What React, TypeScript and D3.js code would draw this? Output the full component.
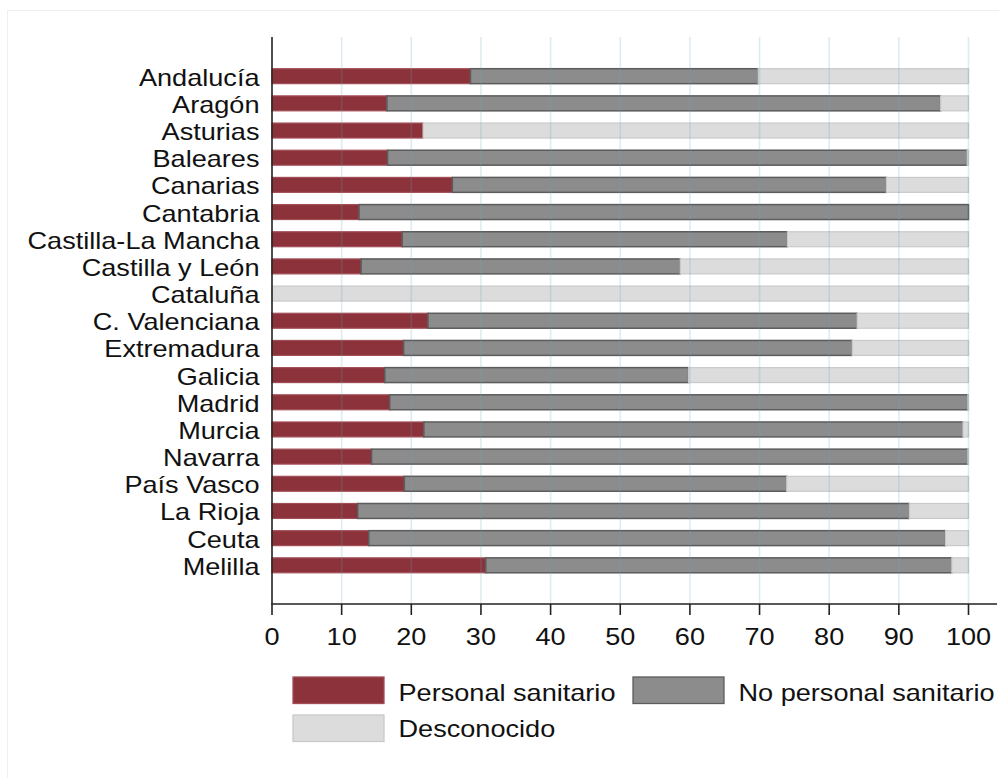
import React from "react";
import * as d3 from "d3";

const regions = [
  "Andalucía", "Aragón", "Asturias", "Baleares", "Canarias", "Cantabria",
  "Castilla-La Mancha", "Castilla y León", "Cataluña", "C. Valenciana",
  "Extremadura", "Galicia", "Madrid", "Murcia", "Navarra", "País Vasco",
  "La Rioja", "Ceuta", "Melilla",
];
const personalSanitario = [28.5, 16.5, 21.7, 16.6, 25.9, 12.5, 18.7, 12.8, 0, 22.4, 18.9, 16.2, 16.9, 21.8, 14.3, 19.0, 12.3, 13.9, 30.7];
const noPersonalSanitario = [41.3, 79.5, 0, 83.2, 62.3, 87.5, 55.3, 45.8, 0, 61.6, 64.4, 43.6, 83.0, 77.4, 85.6, 54.9, 79.2, 82.8, 66.9];
const desconocido = [30.2, 4.0, 78.3, 0.2, 11.8, 0, 26.0, 41.4, 100, 16.0, 16.7, 40.2, 0.1, 0.8, 0.1, 26.1, 8.5, 3.3, 2.4];
const xTicks = [0, 10, 20, 30, 40, 50, 60, 70, 80, 90, 100];
const seriesKeys = ["sanitario", "noSanitario", "desconocido"];
const seriesLabels = ["Personal sanitario", "No personal sanitario", "Desconocido"];

const fills = ["#8b323b", "#8c8c8c", "#dcdcdc"];
const strokes = ["#a24e57", "#5c5c5c", "#c9c9c9"];
const FONT = "'Liberation Sans', Arial, Helvetica, sans-serif";
const FS = 24;
const SX = 1.13;

function SText({ x, y, anchor = "start", children }: any) {
  return (
    <text
      transform={`translate(${x},${y}) scale(${SX},1)`}
      textAnchor={anchor}
      fontFamily={FONT}
      fontSize={FS}
      fill="#111"
    >
      {children}
    </text>
  );
}

export default function App() {
  const W = 999, H = 778;
  const x = d3.scaleLinear().domain([0, 100]).range([272, 968.5]);
  const y = d3.scaleBand<string>().domain(regions).range([62.6, 578.9]).paddingInner(0.45).paddingOuter(0.225);
  const rows = regions.map((r, i) => ({
    region: r,
    sanitario: personalSanitario[i],
    noSanitario: noPersonalSanitario[i],
    desconocido: desconocido[i],
  }));
  const stacked = d3.stack<any>().keys(seriesKeys)(rows);
  const plotTop = 37, axisY = 604;

  return (
    <svg width={W} height={H} style={{ position: "absolute", left: 0, top: 0, display: "block", background: "#fff" }}>
      <rect x={7.5} y={10.5} width={1200} height={1000} fill="none" stroke="#efefef" strokeWidth={1} />
      {stacked.map((s, si) => (
        <g key={s.key}>
          {s.map((d, i) => {
            const w = x(d[1]) - x(d[0]);
            if (w <= 0.01) return null;
            return (
              <rect
                key={i}
                x={x(d[0])}
                y={y(regions[i])}
                width={w}
                height={y.bandwidth()}
                fill={fills[si]}
                stroke={strokes[si]}
                strokeWidth={si === 1 ? 1.5 : 1.2}
              />
            );
          })}
        </g>
      ))}
      {xTicks.filter((t) => t > 0).map((t) => (
        <line key={t} x1={x(t)} x2={x(t)} y1={plotTop} y2={axisY} stroke="rgba(110,165,185,0.22)" strokeWidth={1.6} />
      ))}
      <line x1={272} x2={272} y1={plotTop} y2={axisY} stroke="#222" strokeWidth={1.6} />
      <line x1={271.2} x2={997} y1={axisY} y2={axisY} stroke="#222" strokeWidth={1.6} />
      {xTicks.map((t) => (
        <g key={t}>
          <line x1={x(t)} x2={x(t)} y1={axisY} y2={axisY + 11} stroke="#222" strokeWidth={1.6} />
          <SText x={x(t)} y={644.5} anchor="middle">{t}</SText>
        </g>
      ))}
      {regions.map((r) => (
        <SText key={r} x={259.5} y={(y(r) as number) + y.bandwidth() / 2 + 9.5} anchor="end">{r}</SText>
      ))}
      {/* legend */}
      {[
        { bx: 293, by: 677, tx: 398.5, ty: 701 },
        { bx: 633, by: 677, tx: 738.5, ty: 701 },
        { bx: 293, by: 715, tx: 398.5, ty: 737 },
      ].map((p, i) => (
        <g key={i}>
          <rect x={p.bx} y={p.by} width={91} height={26.5} fill={fills[i]} stroke={strokes[i]} strokeWidth={1.3} />
          <SText x={p.tx} y={p.ty}>{seriesLabels[i]}</SText>
        </g>
      ))}
    </svg>
  );
}
